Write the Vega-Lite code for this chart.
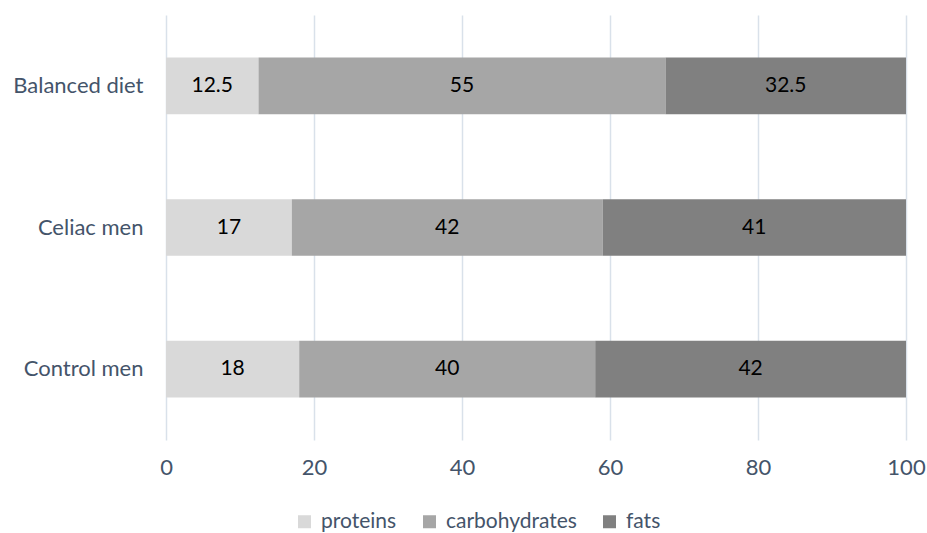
{
  "$schema": "https://vega.github.io/schema/vega-lite/v6.json",
  "width": 740,
  "height": 425,
  "autosize": "none",
  "padding": {"left": 166, "top": 15, "right": 21, "bottom": 93},
  "background": "white",
  "config": {
    "font": "Lato",
    "view": {"stroke": null}
  },
  "data": {
    "values": [
      {"group": "Balanced diet", "nutrient": "proteins", "ord": 1, "value": 12.5},
      {"group": "Balanced diet", "nutrient": "carbohydrates", "ord": 2, "value": 55},
      {"group": "Balanced diet", "nutrient": "fats", "ord": 3, "value": 32.5},
      {"group": "Celiac men", "nutrient": "proteins", "ord": 1, "value": 17},
      {"group": "Celiac men", "nutrient": "carbohydrates", "ord": 2, "value": 42},
      {"group": "Celiac men", "nutrient": "fats", "ord": 3, "value": 41},
      {"group": "Control men", "nutrient": "proteins", "ord": 1, "value": 18},
      {"group": "Control men", "nutrient": "carbohydrates", "ord": 2, "value": 40},
      {"group": "Control men", "nutrient": "fats", "ord": 3, "value": 42}
    ]
  },
  "transform": [
    {"stack": "value", "groupby": ["group"], "sort": [{"field": "ord", "order": "ascending"}], "as": ["x0", "x1"]},
    {"calculate": "(datum.x0 + datum.x1) / 2", "as": "xm"}
  ],
  "encoding": {
    "y": {
      "field": "group",
      "type": "nominal",
      "sort": ["Balanced diet", "Celiac men", "Control men"],
      "scale": {"paddingInner": 0.6, "paddingOuter": 0.3},
      "axis": {
        "title": null,
        "domain": false,
        "ticks": false,
        "labelFontSize": 22,
        "labelColor": "#44546a",
        "labelPadding": 23
      }
    }
  },
  "layer": [
    {
      "mark": {"type": "bar"},
      "encoding": {
        "x": {
          "field": "x0",
          "type": "quantitative",
          "scale": {"domain": [0, 100], "nice": false},
          "axis": {
            "title": null,
            "values": [0, 20, 40, 60, 80, 100],
            "domain": false,
            "ticks": false,
            "grid": true,
            "gridColor": "#d9e1ea",
            "gridWidth": 1.5,
            "labelFontSize": 22,
            "labelColor": "#44546a",
            "labelPadding": 17,
            "labelFlush": false
          }
        },
        "x2": {"field": "x1"},
        "color": {
          "field": "nutrient",
          "type": "nominal",
          "sort": ["proteins", "carbohydrates", "fats"],
          "scale": {"domain": ["proteins", "carbohydrates", "fats"], "range": ["#d9d9d9", "#a6a6a6", "#808080"]},
          "legend": {
            "title": null,
            "orient": "none",
            "direction": "horizontal",
            "legendX": 128,
            "legendY": 496,
            "symbolType": "square",
            "symbolSize": 169,
            "symbolStrokeWidth": 0,
            "labelFontSize": 21,
            "labelColor": "#44546a",
            "labelOffset": 6,
            "columnPadding": 22
          }
        }
      }
    },
    {
      "mark": {"type": "text", "fontSize": 21, "color": "black"},
      "encoding": {
        "x": {"field": "xm", "type": "quantitative"},
        "text": {"field": "value", "type": "quantitative"}
      }
    }
  ]
}
